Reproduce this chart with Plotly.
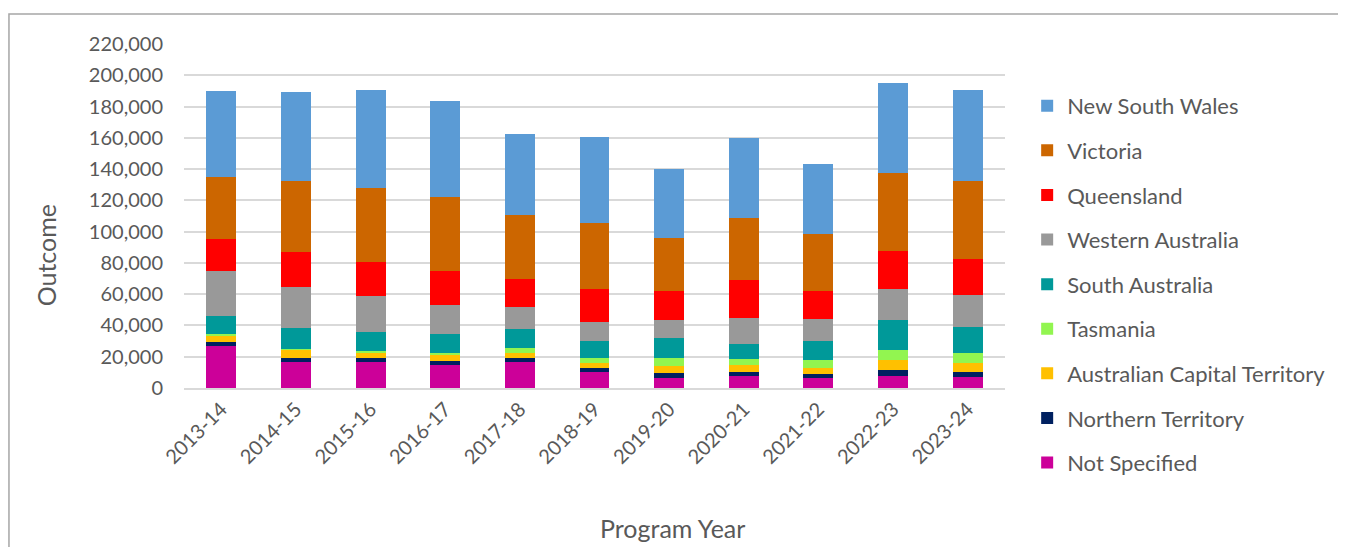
import plotly.graph_objects as go

years = ["2013-14", "2014-15", "2015-16", "2016-17", "2017-18", "2018-19",
         "2019-20", "2020-21", "2021-22", "2022-23", "2023-24"]

not_specified = [26900, 16900, 16900, 14500, 16900, 10300, 6400, 7900, 6400, 7900, 6900]
northern_territory = [2400, 2600, 2600, 2600, 2600, 2800, 3500, 2600, 2400, 3400, 3400]
act = [4300, 5100, 3400, 4300, 3200, 2900, 4000, 4000, 4300, 6400, 5700]
tasmania = [800, 600, 600, 1300, 3200, 3200, 5300, 3900, 4600, 6900, 6400]
south_australia = [11500, 13200, 12400, 11700, 11700, 10900, 12600, 10000, 12400, 18800, 16700]
western_australia = [28700, 26100, 22800, 18600, 13900, 12200, 11600, 16400, 13900, 19600, 20300]
queensland = [20500, 22400, 21600, 21600, 18100, 20700, 18700, 24000, 18100, 24800, 23200]
victoria = [40100, 45700, 47600, 47600, 41000, 42700, 33800, 40100, 36400, 49700, 50000]
new_south_wales = [54900, 56800, 62400, 61500, 51700, 54900, 44200, 50900, 44800, 57700, 57700]

series = [
    ("Not Specified", not_specified, "#CC0099"),
    ("Northern Territory", northern_territory, "#002060"),
    ("Australian Capital Territory", act, "#FFC000"),
    ("Tasmania", tasmania, "#92F550"),
    ("South Australia", south_australia, "#009999"),
    ("Western Australia", western_australia, "#999999"),
    ("Queensland", queensland, "#FF0000"),
    ("Victoria", victoria, "#CC6600"),
    ("New South Wales", new_south_wales, "#5B9BD5"),
]

fig = go.Figure()
for i, (name, vals, col) in enumerate(series):
    fig.add_trace(go.Bar(x=years, y=vals, name=name, marker_color=col,
                         marker_line_width=0, legendgroup=name,
                         legendrank=1000 - i))

FONT = "Lato, Calibri, Carlito, sans-serif"
GREY = "#595959"

fig.update_layout(
    barmode="stack",
    bargap=0.6,
    width=1346, height=547,
    paper_bgcolor="white", plot_bgcolor="white",
    margin=dict(l=176, r=349, t=36, b=167),
    font=dict(family=FONT, color=GREY, size=20),
    legend=dict(traceorder="grouped", tracegroupgap=13,
                font=dict(size=22, color=GREY), x=1.027, xanchor="left",
                y=0.881, yanchor="top", itemwidth=30, maxheight=520),
    xaxis=dict(tickangle=-45, tickfont=dict(size=20, color=GREY),
               showline=True, linecolor="#D9D9D9", linewidth=1.5),
    yaxis=dict(range=[0, 220000], dtick=20000, tickformat=",",
               gridcolor="#D9D9D9", gridwidth=1.5, zeroline=False,
               tickfont=dict(size=20, color=GREY), ticks="", ticklabelstandoff=20),
    annotations=[
        dict(text="Program Year", xref="paper", yref="paper", x=0.5956, y=-0.407,
             xanchor="center", yanchor="middle", showarrow=False,
             font=dict(size=25, color=GREY)),
        dict(text="Outcome", xref="paper", yref="paper", x=-0.1687, y=0.387,
             xanchor="center", yanchor="middle", showarrow=False, textangle=-90,
             font=dict(size=25, color=GREY)),
    ],
    shapes=[dict(type="rect", xref="paper", yref="paper", x0=-0.2132, x1=1.6,
                 y0=-0.7, y1=1.087, line=dict(color="#A6A6A6", width=1.5))],
)

fig.write_html("out.html")
